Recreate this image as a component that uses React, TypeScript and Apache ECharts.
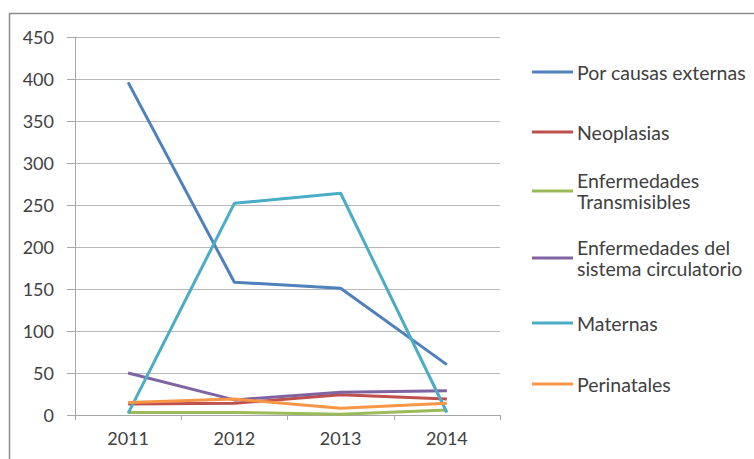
import React, { useEffect, useRef } from "react";
import * as echarts from "echarts";

const categories = ["2011", "2012", "2013", "2014"];
const seriesNames = [
  "Por causas externas",
  "Neoplasias",
  "Enfermedades Transmisibles",
  "Enfermedades del sistema circulatorio",
  "Maternas",
  "Perinatales",
];
const legendLabels = [
  "Por causas externas",
  "Neoplasias",
  "Enfermedades\nTransmisibles",
  "Enfermedades del\nsistema circulatorio",
  "Maternas",
  "Perinatales",
];
const externas = [396, 158, 151, 60];
const neoplasias = [13, 14, 24, 19];
const transmisibles = [3, 3, 1, 6];
const circulatorio = [50, 18, 27, 29];
const maternas = [2, 252, 264, 3];
const perinatales = [15, 19, 8, 14];
const seriesData = [externas, neoplasias, transmisibles, circulatorio, maternas, perinatales];
const colors = ["#4F81BD", "#C0504D", "#9BBB59", "#8064A2", "#4BACC6", "#F79646"];
const yTicks = [0, 50, 100, 150, 200, 250, 300, 350, 400, 450];

const FONT = "Lato, 'Open Sans', sans-serif";
const AXIS_FS = 18;
const LEG_FS = 19.5;
const LH = 21;
const legendCenters = [72, 132, 191, 258, 323, 384];

export default function App() {
  const ref = useRef<HTMLDivElement>(null);
  useEffect(() => {
    if (!ref.current) return;
    const chart = echarts.init(ref.current, undefined, { renderer: "svg" });
    const legends = seriesNames.map((name, i) => {
      const multi = legendLabels[i].includes("\n");
      const top = multi ? legendCenters[i] - 1.5 * LH : legendCenters[i] - LH / 2;
      return {
        show: true,
        orient: "vertical",
        left: 532,
        top,
        padding: 0,
        itemWidth: 41,
        itemHeight: 3,
        data: [{ name, icon: "rect" }],
        formatter: () => legendLabels[i],
        selectedMode: false,
        textStyle: {
          fontFamily: FONT,
          fontSize: LEG_FS,
          color: "#404040",
          lineHeight: LH,
          padding: multi ? [LH, 0, 0, -1] : [0, 0, 0, -1],
        },
      };
    });
    chart.setOption({
      animation: false,
      color: colors,
      graphic: [
        {
          type: "rect",
          shape: { x: 9.5, y: 13.5, width: 800, height: 500 },
          style: { fill: "none", stroke: "#8c8c8c", lineWidth: 1.5 },
          silent: true,
        },
      ],
      legend: legends,
      grid: { left: 75, right: 254, top: 37, bottom: 44, containLabel: false },
      xAxis: {
        type: "category",
        data: categories,
        boundaryGap: true,
        axisLine: { lineStyle: { color: "#a6a6a6", width: 1 } },
        axisTick: { show: true, length: 5, lineStyle: { color: "#a6a6a6" } },
        axisLabel: { fontFamily: FONT, fontSize: AXIS_FS, color: "#404040", margin: 14 },
      },
      yAxis: {
        type: "value",
        min: 0,
        max: 450,
        interval: 50,
        axisLine: { show: true, lineStyle: { color: "#a6a6a6", width: 1 } },
        axisTick: { show: true, length: 8, lineStyle: { color: "#a6a6a6" } },
        axisLabel: {
          fontFamily: FONT,
          fontSize: AXIS_FS,
          color: "#404040",
          margin: 21,
          formatter: (v: number) => (yTicks.includes(v) ? String(v) : ""),
        },
        splitLine: { show: true, lineStyle: { color: "#b8b8b8", width: 1 } },
      },
      series: seriesNames.map((name, i) => ({
        name,
        type: "line",
        data: seriesData[i],
        symbol: "none",
        showSymbol: false,
        lineStyle: { width: 3, color: colors[i] },
        itemStyle: { color: colors[i] },
      })),
    });
    return () => chart.dispose();
  }, []);
  return (
    <div
      ref={ref}
      style={{ position: "absolute", left: 0, top: 0, width: 754, height: 459, background: "#fff" }}
    />
  );
}
